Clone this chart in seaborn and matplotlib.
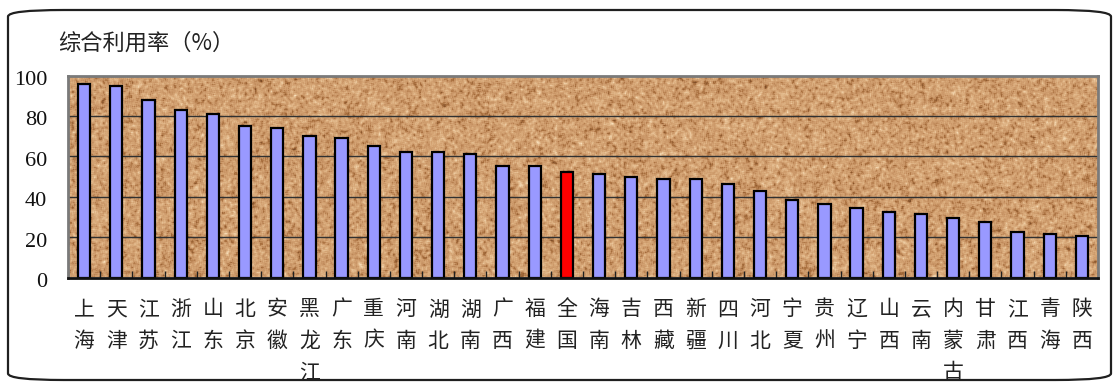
import numpy as np
import pandas as pd
import matplotlib
matplotlib.use("Agg")
import matplotlib.pyplot as plt
import seaborn as sns
from matplotlib.colors import LinearSegmentedColormap
from matplotlib.patches import FancyBboxPatch
from matplotlib.transforms import blended_transform_factory, offset_copy

# ---- data ----
regions = ["上海", "天津", "江苏", "浙江", "山东", "北京", "安徽", "黑龙江", "广东", "重庆",
           "河南", "湖北", "湖南", "广西", "福建", "全国", "海南", "吉林", "西藏", "新疆",
           "四川", "河北", "宁夏", "贵州", "辽宁", "山西", "云南", "内蒙古", "甘肃", "江西",
           "青海", "陕西"]
rates = [96, 95, 88, 83, 81, 75, 74, 70, 69, 65,
         62, 62, 61, 55, 55, 52, 51, 50, 49, 49,
         46.5, 43, 38.5, 36.5, 34.5, 32.5, 31.5, 29.5, 27.5, 22.5,
         21.5, 20.5]
national = "全国"
y_ticks = [0, 20, 40, 60, 80, 100]
title = "综合利用率（%）"

bar_color = "#9999FF"
highlight_color = "#FF0000"

sns.set_theme(style="white")
plt.rcParams["font.family"] = ["Noto Sans CJK SC", "DejaVu Sans"]

fig = plt.figure(figsize=(11.14, 3.82), dpi=100)
fig.patch.set_facecolor("white")

# rounded outer frame
frame = FancyBboxPatch((8 / 1114, 2 / 382), 1103 / 1114, 370 / 382,
                       boxstyle="round,pad=0,rounding_size=0.05",
                       transform=fig.transFigure, facecolor="none",
                       edgecolor="#202020", linewidth=1.6, mutation_aspect=382 / 1114)
fig.patches.append(frame)

ax = fig.add_axes([68 / 1114, 104.5 / 382, 1030 / 1114, 202 / 382])

# granite-like background texture for the plotting area
rng = np.random.default_rng(11)
h, w = 202, 1030

def box_blur(a, k):
    out = np.zeros_like(a)
    for dy in range(-k, k + 1):
        for dx in range(-k, k + 1):
            out += np.roll(np.roll(a, dy, 0), dx, 1)
    return out / (2 * k + 1) ** 2

fine = box_blur(rng.random((h, w)), 1)
coarse = rng.random((h // 5 + 2, w // 5 + 2))
coarse = np.kron(coarse, np.ones((5, 5)))[:h, :w]
coarse = box_blur(coarse, 2)
norm = lambda a: (a - a.min()) / (a.max() - a.min())
tex = norm(0.8 * norm(fine) + 0.2 * norm(coarse))
cmap = LinearSegmentedColormap.from_list(
    "granite",
    [(0.0, "#7a4a26"), (0.22, "#a9703f"), (0.4, "#c99566"),
     (0.58, "#d6a676"), (0.78, "#e5bd90"), (1.0, "#f7dfbb")])
ax.imshow(tex, cmap=cmap, extent=(-0.5, len(regions) - 0.5, 0, 100),
          aspect="auto", interpolation="nearest", zorder=0)

# horizontal grid
for t in y_ticks[1:-1]:
    ax.axhline(t, color="#303030", linewidth=1.0, zorder=1)

df = pd.DataFrame({"region": regions, "rate": rates})
palette = {r: (highlight_color if r == national else bar_color) for r in regions}
sns.barplot(data=df, x="region", y="rate", hue="region", palette=palette,
            legend=False, width=0.38, edgecolor="black", linewidth=1.6,
            saturation=1.0, ax=ax, zorder=2)

ax.set_xlim(-0.5, len(regions) - 0.5)
ax.set_ylim(0, 100)
ax.set_xlabel("")
ax.set_ylabel("")

# x axis labels, characters stacked vertically
ax.set_xticks(range(len(regions)))
ax.set_xticklabels(["\n".join(r) for r in regions], fontsize=15, color="#222222",
                   linespacing=1.55, va="top")
ax.set_xticks(np.arange(-0.5, len(regions), 1.0), minor=True)
ax.tick_params(axis="x", which="minor", direction="in", length=5, width=1.0,
               color="#202020", bottom=True)
ax.tick_params(axis="x", which="major", length=0, pad=15)

# y axis values drawn as text, right-aligned left of the plot area
ax.set_yticks(y_ticks)
ax.set_yticklabels([])
ax.tick_params(axis="y", length=0)
ylab_tr = offset_copy(blended_transform_factory(ax.transAxes, ax.transData),
                      fig=fig, x=-21, y=-5, units="dots")
for t in y_ticks:
    ax.text(0, t, str(t), transform=ylab_tr, ha="right", va="center",
            fontfamily="Liberation Serif", fontsize=16, color="#111111")

for side in ["left", "right", "top"]:
    ax.spines[side].set_color("#7a7a7a")
    ax.spines[side].set_linewidth(2.0)
ax.spines["bottom"].set_color("#111111")
ax.spines["bottom"].set_linewidth(2.0)
for s in ax.spines.values():
    s.set_visible(True)
    s.set_zorder(5)

fig.text(58 / 1114, 1 - 43 / 382, title, fontsize=16, color="#222222",
         ha="left", va="center")

fig.savefig("out.png", dpi=100, facecolor="white")
